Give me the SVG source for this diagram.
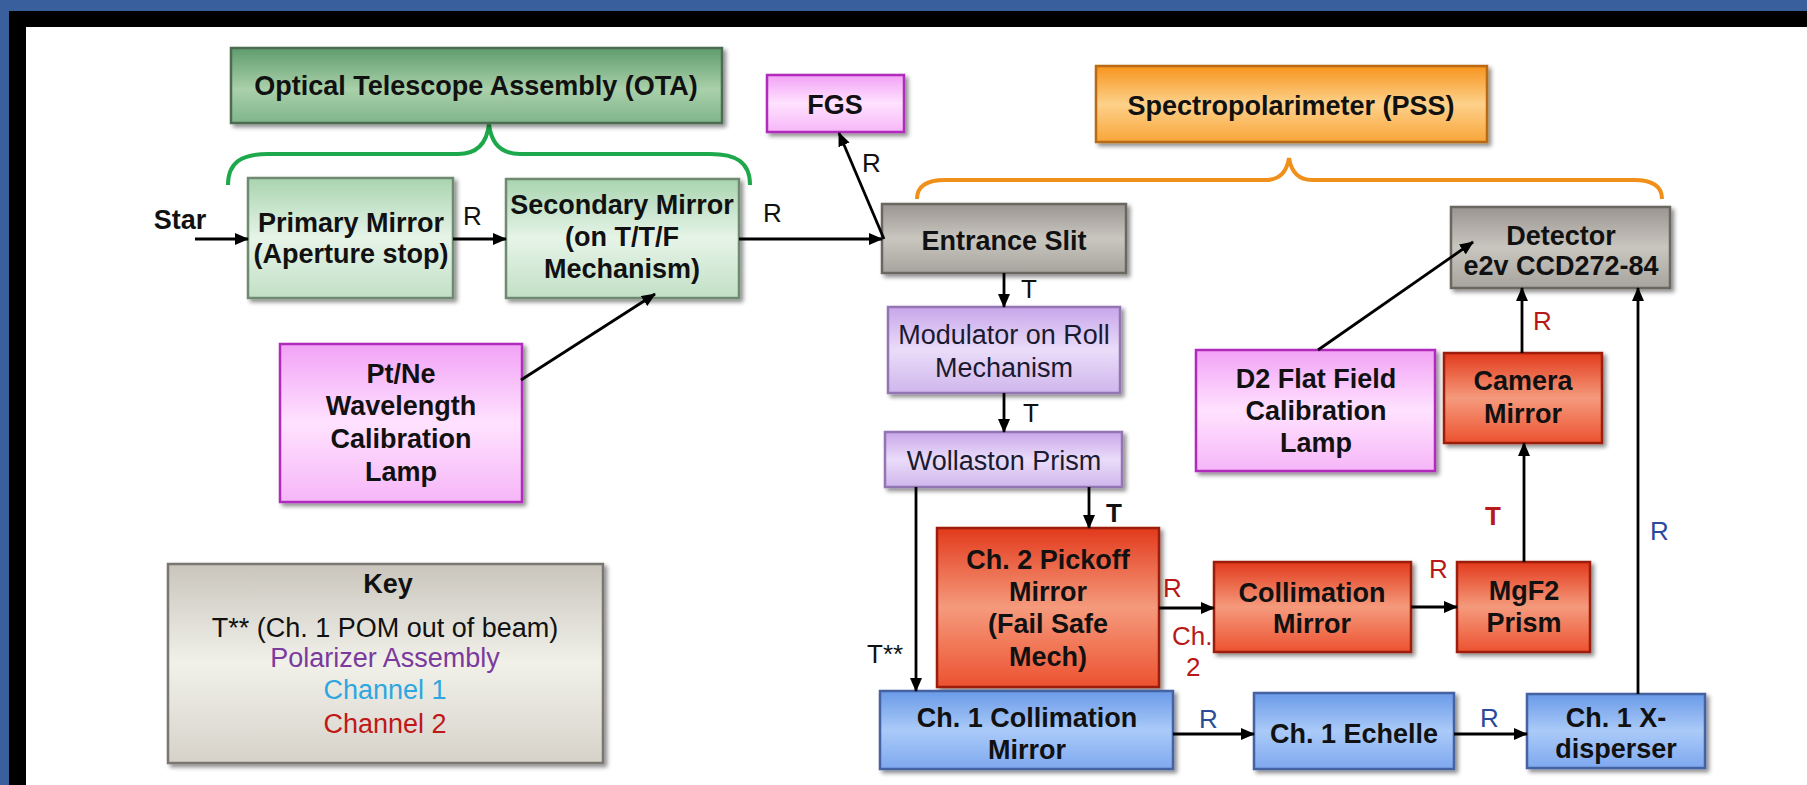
<svg xmlns="http://www.w3.org/2000/svg" width="1807" height="785" viewBox="0 0 1807 785">
<defs>
<linearGradient id="gOTA" x1="0" y1="0" x2="0" y2="1"><stop offset="0" stop-color="#5f9c6c"/><stop offset="0.55" stop-color="#a9d0aa"/><stop offset="1" stop-color="#7fb58a"/></linearGradient>
<linearGradient id="gGreen" x1="0" y1="0" x2="0" y2="1"><stop offset="0" stop-color="#a9d4b0"/><stop offset="0.5" stop-color="#e6f4e8"/><stop offset="1" stop-color="#c2e0c6"/></linearGradient>
<linearGradient id="gMag" x1="0" y1="0" x2="0" y2="1"><stop offset="0" stop-color="#f2a2f6"/><stop offset="0.5" stop-color="#ffe2ff"/><stop offset="1" stop-color="#f6b6f8"/></linearGradient>
<linearGradient id="gOrange" x1="0" y1="0" x2="0" y2="1"><stop offset="0" stop-color="#f7941d"/><stop offset="0.5" stop-color="#fdd18a"/><stop offset="1" stop-color="#f9a53a"/></linearGradient>
<linearGradient id="gGrey" x1="0" y1="0" x2="0" y2="1"><stop offset="0" stop-color="#9a9590"/><stop offset="0.5" stop-color="#c9c5bf"/><stop offset="1" stop-color="#a7a39d"/></linearGradient>
<linearGradient id="gLav" x1="0" y1="0" x2="0" y2="1"><stop offset="0" stop-color="#c8a6ea"/><stop offset="0.5" stop-color="#eadcf9"/><stop offset="1" stop-color="#cfb6ec"/></linearGradient>
<linearGradient id="gRed" x1="0" y1="0" x2="0" y2="1"><stop offset="0" stop-color="#e23a1c"/><stop offset="0.5" stop-color="#f59a7c"/><stop offset="1" stop-color="#ec5230"/></linearGradient>
<linearGradient id="gBlue" x1="0" y1="0" x2="0" y2="1"><stop offset="0" stop-color="#6a9ae8"/><stop offset="0.5" stop-color="#aacaf8"/><stop offset="1" stop-color="#7ea8ef"/></linearGradient>
<linearGradient id="gKey" x1="0" y1="0" x2="0" y2="1"><stop offset="0" stop-color="#c9c5bd"/><stop offset="0.5" stop-color="#f1f1e9"/><stop offset="1" stop-color="#d6d2ca"/></linearGradient>
<filter id="sh" x="-10%" y="-10%" width="130%" height="130%"><feDropShadow dx="3" dy="3" stdDeviation="2" flood-color="#000" flood-opacity="0.45"/></filter>
<marker id="ah" viewBox="0 0 14 12" refX="13" refY="6" markerWidth="14" markerHeight="12" markerUnits="userSpaceOnUse" orient="auto"><path d="M0,0 L14,6 L0,12 Z" fill="#000"/></marker>
<style>
text{font-family:"Liberation Sans",Arial,sans-serif;}
.b{font-weight:bold;font-size:27px;fill:#111;text-anchor:middle;}
.n{font-size:27px;fill:#1a1a30;text-anchor:middle;}
.l{font-size:26px;fill:#111;}
.lr{font-size:26px;fill:#b81818;}
.lb{font-size:26px;fill:#2a4a9a;}
.box{filter:url(#sh);stroke-width:2.5;}
.c{stroke:#000;stroke-width:2.8;fill:none;marker-end:url(#ah);}
</style>
</defs>
<rect x="0" y="0" width="1807" height="785" fill="#fff"/>
<rect x="0" y="0" width="1807" height="11" fill="#3a5f9d"/>
<rect x="0" y="0" width="9" height="785" fill="#3a5f9d"/>
<rect x="9" y="11" width="1798" height="16" fill="#000"/>
<rect x="9" y="11" width="17" height="774" fill="#000"/>

<g id="braces" fill="none" stroke-width="4">
<path d="M228,185 C228,162 242,154 268,154 L458,154 C478,154 487,142 489,124 C491,142 500,154 520,154 L710,154 C736,154 750,162 750,185" stroke="#1ea84c"/>
<path d="M917,199 C917,187 925,180 945,180 L1266,180 C1281,180 1287,170 1289,158 C1291,170 1297,180 1312,180 L1634,180 C1654,180 1662,187 1662,199" stroke="#f0901a"/>
</g>

<g id="ota"><rect class="box" x="231" y="48" width="491" height="75" fill="url(#gOTA)" stroke="#4d6b52"/><text class="b" x="476" y="95">Optical Telescope Assembly (OTA)</text></g>
<g id="primary"><rect class="box" x="248" y="178" width="205" height="120" fill="url(#gGreen)" stroke="#6f8a72"/><text class="b" x="351" y="232">Primary Mirror</text><text class="b" x="351" y="263">(Aperture stop)</text></g>
<g id="secondary"><rect class="box" x="506" y="179" width="233" height="119" fill="url(#gGreen)" stroke="#6f8a72"/><text class="b" x="622" y="214">Secondary Mirror</text><text class="b" x="622" y="246">(on T/T/F</text><text class="b" x="622" y="278">Mechanism)</text></g>
<g id="fgs"><rect class="box" x="767" y="75" width="137" height="57" fill="url(#gMag)" stroke="#b02cbc"/><text class="b" x="835" y="114">FGS</text></g>
<g id="pss"><rect class="box" x="1096" y="66" width="391" height="76" fill="url(#gOrange)" stroke="#b86a12"/><text class="b" x="1291" y="115">Spectropolarimeter (PSS)</text></g>
<g id="entrance"><rect class="box" x="882" y="204" width="244" height="69" fill="url(#gGrey)" stroke="#6a6660"/><text class="b" x="1004" y="250">Entrance Slit</text></g>
<g id="detector"><rect class="box" x="1451" y="207" width="219" height="81" fill="url(#gGrey)" stroke="#6a6660"/><text class="b" x="1561" y="245">Detector</text><text class="b" x="1561" y="275">e2v CCD272-84</text></g>
<g id="ptne"><rect class="box" x="280" y="344" width="242" height="158" fill="url(#gMag)" stroke="#b02cbc"/><text class="b" x="401" y="383">Pt/Ne</text><text class="b" x="401" y="415">Wavelength</text><text class="b" x="401" y="448">Calibration</text><text class="b" x="401" y="481">Lamp</text></g>
<g id="modulator"><rect class="box" x="888" y="307" width="232" height="86" fill="url(#gLav)" stroke="#9474b4"/><text class="n" x="1004" y="344">Modulator on Roll</text><text class="n" x="1004" y="377">Mechanism</text></g>
<g id="wollaston"><rect class="box" x="885" y="432" width="237" height="55" fill="url(#gLav)" stroke="#9474b4"/><text class="n" x="1004" y="470">Wollaston Prism</text></g>
<g id="d2lamp"><rect class="box" x="1196" y="350" width="239" height="121" fill="url(#gMag)" stroke="#b02cbc"/><text class="b" x="1316" y="388">D2 Flat Field</text><text class="b" x="1316" y="420">Calibration</text><text class="b" x="1316" y="452">Lamp</text></g>
<g id="camera"><rect class="box" x="1444" y="353" width="158" height="90" fill="url(#gRed)" stroke="#9c1a0a"/><text class="b" x="1523" y="390">Camera</text><text class="b" x="1523" y="423">Mirror</text></g>
<g id="pickoff"><rect class="box" x="937" y="528" width="222" height="159" fill="url(#gRed)" stroke="#9c1a0a"/><text class="b" x="1048" y="569">Ch. 2 Pickoff</text><text class="b" x="1048" y="601">Mirror</text><text class="b" x="1048" y="633">(Fail Safe</text><text class="b" x="1048" y="666">Mech)</text></g>
<g id="collimation2"><rect class="box" x="1214" y="562" width="197" height="90" fill="url(#gRed)" stroke="#9c1a0a"/><text class="b" x="1312" y="602">Collimation</text><text class="b" x="1312" y="633">Mirror</text></g>
<g id="mgf2"><rect class="box" x="1457" y="562" width="133" height="90" fill="url(#gRed)" stroke="#9c1a0a"/><text class="b" x="1524" y="600">MgF2</text><text class="b" x="1524" y="632">Prism</text></g>
<g id="collimation1"><rect class="box" x="880" y="691" width="293" height="78" fill="url(#gBlue)" stroke="#4462a2"/><text class="b" x="1027" y="727">Ch. 1 Collimation</text><text class="b" x="1027" y="759">Mirror</text></g>
<g id="echelle"><rect class="box" x="1254" y="693" width="200" height="76" fill="url(#gBlue)" stroke="#4462a2"/><text class="b" x="1354" y="743">Ch. 1 Echelle</text></g>
<g id="xdisperser"><rect class="box" x="1527" y="694" width="178" height="74" fill="url(#gBlue)" stroke="#4462a2"/><text class="b" x="1616" y="727">Ch. 1 X-</text><text class="b" x="1616" y="758">disperser</text></g>
<g id="key"><rect class="box" x="168" y="564" width="435" height="199" fill="url(#gKey)" stroke="#7a7670"/><text class="b" x="388" y="593">Key</text><text class="n" x="385" y="637" style="fill:#111">T** (Ch. 1 POM out of beam)</text><text class="n" x="385" y="667" style="fill:#7a3a9e">Polarizer Assembly</text><text class="n" x="385" y="699" style="fill:#2ea6e0">Channel 1</text><text class="n" x="385" y="733" style="fill:#c01818">Channel 2</text></g>

<g id="connectors">
<line class="c" x1="195" y1="239" x2="248" y2="239"/>
<line class="c" x1="453" y1="239" x2="506" y2="239"/>
<line class="c" x1="739" y1="239" x2="882" y2="239"/>
<line class="c" x1="884" y1="239" x2="839" y2="133"/>
<line class="c" x1="521" y1="380" x2="655" y2="294"/>
<line class="c" x1="1004" y1="273" x2="1004" y2="307"/>
<line class="c" x1="1004" y1="393" x2="1004" y2="432"/>
<line class="c" x1="1089" y1="487" x2="1089" y2="528"/>
<line class="c" x1="916" y1="487" x2="916" y2="691"/>
<line class="c" x1="1159" y1="608" x2="1214" y2="608"/>
<line class="c" x1="1411" y1="607" x2="1457" y2="607"/>
<line class="c" x1="1524" y1="562" x2="1524" y2="443"/>
<line class="c" x1="1522" y1="353" x2="1522" y2="288"/>
<line class="c" x1="1318" y1="350" x2="1473" y2="242"/>
<line class="c" x1="1638" y1="694" x2="1638" y2="288"/>
<line class="c" x1="1173" y1="734" x2="1254" y2="734"/>
<line class="c" x1="1454" y1="734" x2="1527" y2="734"/>
</g>

<g id="labels">
<text class="b" x="180" y="229">Star</text>
<text class="l" x="463" y="225">R</text>
<text class="l" x="763" y="222">R</text>
<text class="l" x="862" y="172">R</text>
<text class="l" x="1021" y="298">T</text>
<text class="l" x="1023" y="422">T</text>
<text class="l" x="1106" y="522" font-weight="bold">T</text>
<text class="l" x="867" y="663">T**</text>
<text class="lr" x="1163" y="597">R</text>
<text class="lr" x="1172" y="645">Ch.</text>
<text class="lr" x="1186" y="676">2</text>
<text class="lr" x="1429" y="578">R</text>
<text class="lr" x="1485" y="525" font-weight="bold">T</text>
<text class="lr" x="1533" y="330">R</text>
<text class="lb" x="1650" y="540">R</text>
<text class="lb" x="1199" y="728">R</text>
<text class="lb" x="1480" y="727">R</text>
</g>
</svg>
